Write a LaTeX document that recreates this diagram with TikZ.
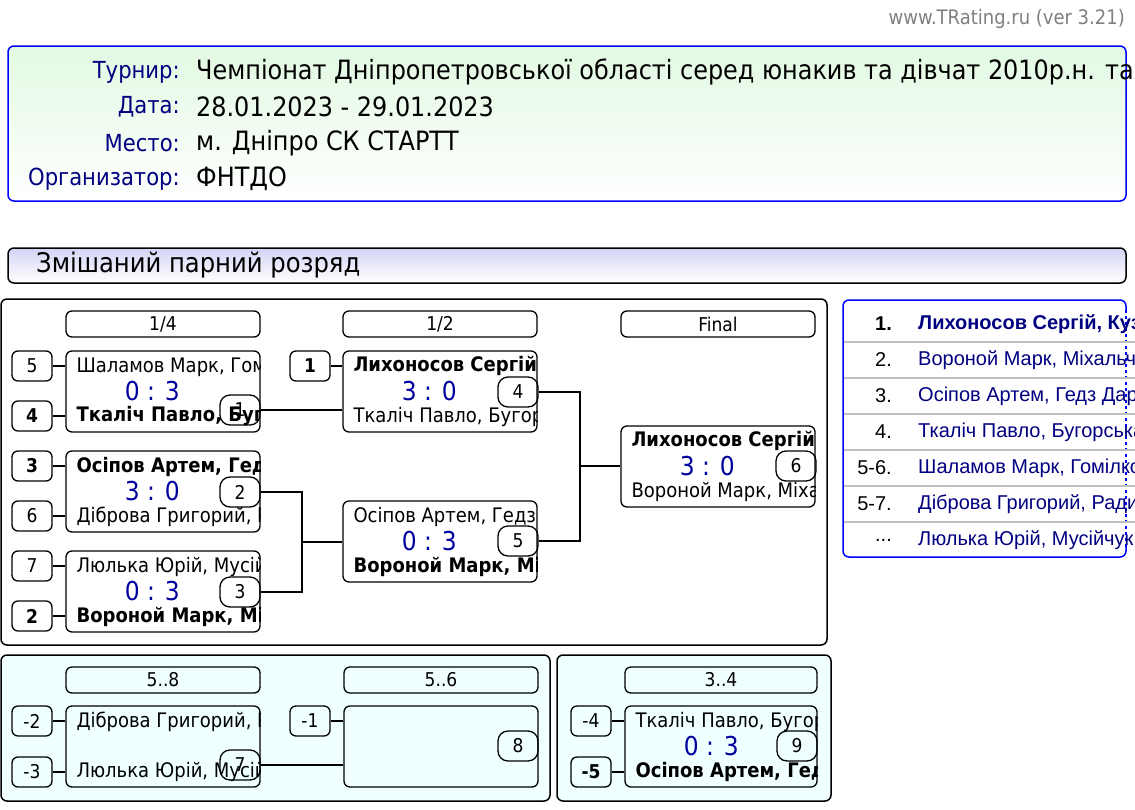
\documentclass[tikz,border=0pt]{standalone}
\usepackage{fontspec}
\setmainfont{DejaVu Sans Condensed}
\newfontfamily\listfont{Liberation Sans}
\usepackage{xcolor}
\definecolor{navyTR}{HTML}{000080}
\definecolor{scoreTR}{HTML}{0000A0}
\definecolor{frameTR}{HTML}{0000FF}
\definecolor{mintTR}{HTML}{E2F9E2}
\definecolor{lilacTR}{HTML}{D4D4F6}
\definecolor{azureTR}{HTML}{F0FFFF}
\definecolor{sepTR}{HTML}{C0C0C0}
\usepackage{tikz}
\usetikzlibrary{calc}
\newcommand{\fs}[1]{\fontsize{#1}{#1}\selectfont}
% players and score inside a match box, cut at its border
\newcommand{\gamebox}[4]{%
 \begin{scope}
 \clip[rounded corners=6pt] (#1.north west) rectangle (#1.south east);
 \node[player] (#1top) at ([xshift=11pt,yshift=25pt]#1.west) {#2};
 \node[score] (#1score) at ([xshift=87pt]#1.west) {#3};
 \node[player] (#1bot) at ([xshift=11pt,yshift=-25pt]#1.west) {#4};
 \end{scope}}

\begin{document}
\begin{tikzpicture}[x=1pt,y=-1pt,
 panel/.style={draw,rounded corners=6pt,line width=1.5pt},
 roundHead/.style={draw,rounded corners=6pt,line width=1.3pt,minimum width=194pt,
 minimum height=26pt,inner sep=0pt,font=\fs{19}},
 matchBox/.style={draw,rounded corners=6pt,line width=1.3pt,minimum width=194pt,
 minimum height=81pt,inner sep=0pt},
 player/.style={anchor=west,inner sep=0pt,font=\fs{20}},
 score/.style={inner sep=0pt,text=scoreTR,font=\fs{26}},
 seed/.style={draw,rounded corners=6pt,line width=1.3pt,minimum width=40pt,
 minimum height=30pt,inner sep=0pt,font=\fs{19}},
 gameTag/.style={seed,rounded corners=10pt},
 link/.style={line width=1.3pt},
 infoLabel/.style={anchor=east,inner sep=0pt,text=navyTR,font=\fs{23.5}},
 infoValue/.style={anchor=west,inner sep=0pt,font=\fs{26.6}},
 rankNo/.style={anchor=east,inner sep=0pt,font=\listfont\fs{20}},
 rankName/.style={anchor=west,inner sep=0pt,text=navyTR,font=\listfont\fs{20}}]
 \useasboundingbox (0,0) rectangle (1135,809);
 \clip (0,0) rectangle (1135,809);
 \fill[white] (0,0) rectangle (1135,809);

 % header
 \node[anchor=east,inner sep=0pt,text=gray,font=\fs{20}] (site) at (1125,19) {www.TRating.ru (ver 3.21)};
 \path[panel,draw=frameTR,top color=mintTR,bottom color=white] (8,46) rectangle (1126,201);
 \node[infoLabel] (lblEvent) at (180,72) {Турнир:};
 \node[infoValue] (valEvent) at (196,72) {Чемпіонат Дніпропетровської області серед юнакив та дівчат 2010р.н. та};
 \node[infoLabel] (lblDate) at (180,107) {Дата:};
 \node[infoValue] (valDate) at (196,107) {28.01.2023 - 29.01.2023};
 \node[infoLabel] (lblPlace) at (180,143) {Место:};
 \node[infoValue] (valPlace) at (196,143) {м. Дніпро СК СТАРТТ};
 \node[infoLabel] (lblOrg) at (180,179) {Организатор:};
 \node[infoValue] (valOrg) at (196,179) {ФНТДО};
 \path[panel,top color=lilacTR,bottom color=white] (8,248) rectangle (1126,283);
 \node[anchor=west,inner sep=0pt,font=\fs{27}] (event) at (36,265) {Змішаний парний розряд};

 % main draw
 \draw[panel,fill=white] (1,299) rectangle (827,645);
 \node[roundHead] (qf) at (163,324) {1/4};
 \node[roundHead] (sf) at (440,324) {1/2};
 \node[roundHead] (fin) at (718,324) {Final};

 \node[matchBox] (m1) at (163,391.5) {};
 \gamebox{m1}{Шаламов Марк, Гомілко}{0 : 3}{\textbf{Ткаліч Павло, Бугорська}}
 \node[matchBox] (m2) at (163,491.5) {};
 \gamebox{m2}{\textbf{Осіпов Артем, Гедз Дар}}{3 : 0}{Діброва Григорий, Ради}
 \node[matchBox] (m3) at (163,591.5) {};
 \gamebox{m3}{Люлька Юрій, Мусійчук}{0 : 3}{\textbf{Вороной Марк, Міхальч}}
 \node[matchBox] (m4) at (440,391.5) {};
 \gamebox{m4}{\textbf{Лихоносов Сергій, Куз}}{3 : 0}{Ткаліч Павло, Бугорська}
 \node[matchBox] (m5) at (440,541.5) {};
 \gamebox{m5}{Осіпов Артем, Гедз Дар}{0 : 3}{\textbf{Вороной Марк, Міхальч}}
 \node[matchBox] (m6) at (718,466.5) {};
 \gamebox{m6}{\textbf{Лихоносов Сергій, Куз}}{3 : 0}{Вороной Марк, Міхальч}

 \node[seed] (s1t) at (32,366) {5};
 \node[seed,font=\fs{19}\bfseries] (s1b) at (32,416) {4};
 \node[seed,font=\fs{19}\bfseries] (s2t) at (32,466) {3};
 \node[seed] (s2b) at (32,516) {6};
 \node[seed] (s3t) at (32,566) {7};
 \node[seed,font=\fs{19}\bfseries] (s3b) at (32,616) {2};
 \node[seed,font=\fs{19}\bfseries] (s4t) at (310,366) {1};

 \node[gameTag] (t1) at (240,410) {1};
 \node[gameTag] (t2) at (240,492) {2};
 \node[gameTag] (t3) at (240,592) {3};
 \node[gameTag] (t4) at (518,392) {4};
 \node[gameTag] (t5) at (518,541) {5};
 \node[gameTag] (t6) at (796,466) {6};

 \coordinate (j1) at (302,542);
 \coordinate (j2) at (580,466);
 \draw[link] (s1t.east) -- (s1t.east -| m1.west);
 \draw[link] (s1b.east) -- (s1b.east -| m1.west);
 \draw[link] (s2t.east) -- (s2t.east -| m2.west);
 \draw[link] (s2b.east) -- (s2b.east -| m2.west);
 \draw[link] (s3t.east) -- (s3t.east -| m3.west);
 \draw[link] (s3b.east) -- (s3b.east -| m3.west);
 \draw[link] (s4t.east) -- (s4t.east -| m4.west);
 \draw[link] (t1.east) -- (t1.east -| m4.west);
 \draw[link] (t2.east) -| (j1) |- (t3.east);
 \draw[link] (j1) -- (j1 -| m5.west);
 \draw[link] (t4.east) -| (j2) |- (t5.east);
 \draw[link] (j2) -- (j2 -| m6.west);

 % places 5..8
 \draw[panel,fill=azureTR] (1,655) rectangle (550,801);
 \node[roundHead] (p58) at (163,680) {5..8};
 \node[roundHead] (p56) at (441,680) {5..6};
 \node[matchBox] (m7) at (163,746.5) {};
 \gamebox{m7}{Діброва Григорий, Ради}{}{Люлька Юрій, Мусійчук}
 \node[matchBox] (m8) at (441,746.5) {};
 \node[seed] (s7t) at (32,721) {-2};
 \node[seed] (s7b) at (32,772) {-3};
 \node[seed] (s8t) at (310,721) {-1};
 \node[gameTag] (t7) at (240,765) {7};
 \node[gameTag] (t8) at (518,746) {8};
 \draw[link] (s7t.east) -- (s7t.east -| m7.west);
 \draw[link] (s7b.east) -- (s7b.east -| m7.west);
 \draw[link] (s8t.east) -- (s8t.east -| m8.west);
 \draw[link] (t7.east) -- (t7.east -| m8.west);

 % places 3..4
 \draw[panel,fill=azureTR] (557,655) rectangle (831,801);
 \node[roundHead,minimum width=192pt] (p34) at (721,680) {3..4};
 \node[matchBox,minimum width=192pt] (m9) at (721,746.5) {};
 \gamebox{m9}{Ткаліч Павло, Бугорська}{0 : 3}{\textbf{Осіпов Артем, Гедз Дар}}
 \node[seed] (s9t) at (591,721) {-4};
 \node[seed,font=\fs{19}\bfseries] (s9b) at (591,772) {-5};
 \node[gameTag] (t9) at (797,746) {9};
 \draw[link] (s9t.east) -- (s9t.east -| m9.west);
 \draw[link] (s9b.east) -- (s9b.east -| m9.west);

 % final standings
 \fill[white] (843,300) rectangle (1126,557);
 \draw[frameTR,line width=1.5pt,rounded corners=6pt] (1126,310) -- (1126,300) -- (843,300)
 -- (843,557) -- (1126,557) -- (1126,547);
 \draw[frameTR,line width=1.5pt,dashed] (1126,310) -- (1126,547);
 \draw[sepTR,line width=2pt] (844,341.5) -- (1135,341.5);
 \draw[sepTR,line width=2pt] (844,377.5) -- (1135,377.5);
 \draw[sepTR,line width=2pt] (844,413.5) -- (1135,413.5);
 \draw[sepTR,line width=2pt] (844,449.5) -- (1135,449.5);
 \draw[sepTR,line width=2pt] (844,485.5) -- (1135,485.5);
 \draw[sepTR,line width=2pt] (844,521.5) -- (1135,521.5);
 \node[rankNo,font=\listfont\fs{20}\bfseries] (r1) at (892,324) {1.};
 \node[rankName,font=\listfont\fs{20}\bfseries] (n1) at (918,324) {Лихоносов Сергій, Куз};
 \node[rankNo] (r2) at (892,360) {2.};
 \node[rankName] (n2) at (918,360) {Вороной Марк, Міхальч};
 \node[rankNo] (r3) at (892,396) {3.};
 \node[rankName] (n3) at (918,396) {Осіпов Артем, Гедз Дар};
 \node[rankNo] (r4) at (892,432) {4.};
 \node[rankName] (n4) at (918,432) {Ткаліч Павло, Бугорська};
 \node[rankNo] (r5) at (892,468) {5-6.};
 \node[rankName] (n5) at (918,468) {Шаламов Марк, Гомілко};
 \node[rankNo] (r6) at (892,504) {5-7.};
 \node[rankName] (n6) at (918,504) {Діброва Григорий, Ради};
 \node[rankNo] (r7) at (892,540) {...};
 \node[rankName] (n7) at (918,540) {Люлька Юрій, Мусійчук};
\end{tikzpicture}
\end{document}
